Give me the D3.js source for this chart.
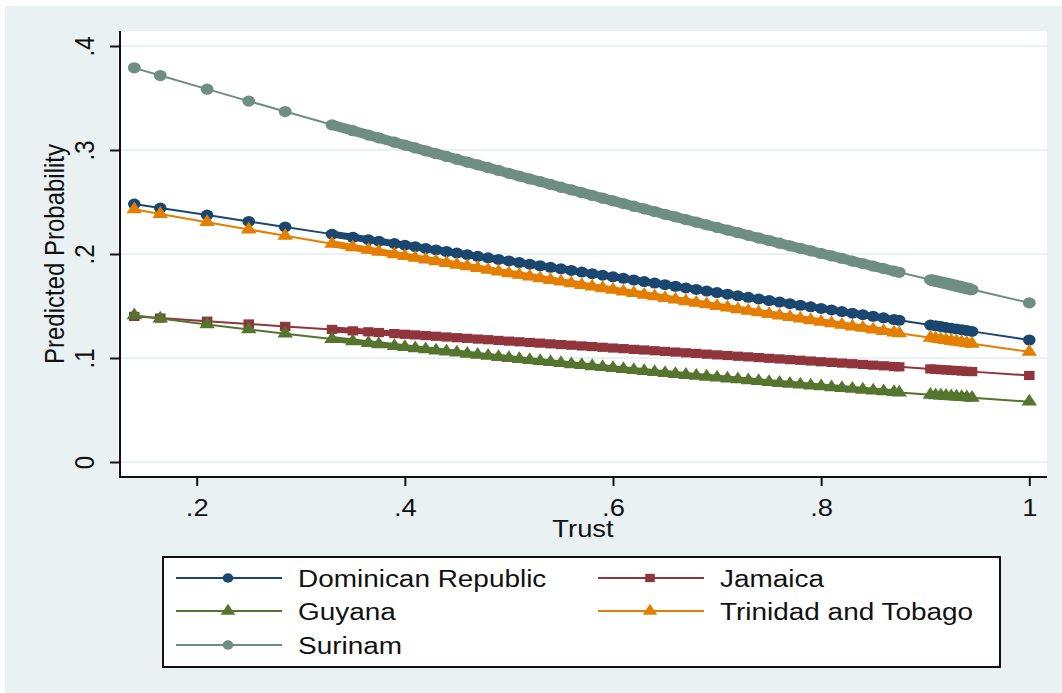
<!DOCTYPE html>
<html>
<head>
<meta charset="utf-8">
<script src="https://cdn.jsdelivr.net/npm/d3@7/dist/d3.min.js"></script>
<style>
  html, body { margin: 0; padding: 0; background: #ffffff; }
  svg { display: block; }
  text { font-family: "Liberation Sans", Arial, Helvetica, sans-serif; fill: #111; }
</style>
</head>
<body>
<svg id="chart" width="1062" height="693"></svg>
<script>
// Trust scores at which predicted probabilities were computed
const trust = [0.14,0.165,0.21,0.25,0.285,0.33,0.35,0.365,0.375,0.39,
  0.40,0.41,0.42,0.43,0.44,0.45,0.46,0.47,0.48,0.49,
  0.50,0.51,0.52,0.53,0.54,0.55,0.56,0.57,0.58,0.59,
  0.60,0.61,0.62,0.63,0.64,0.65,0.66,0.67,0.68,0.69,
  0.70,0.71,0.72,0.73,0.74,0.75,0.76,0.77,0.78,0.79,
  0.80,0.81,0.82,0.83,0.84,0.85,0.86,0.87,0.875,
  0.905,0.91,0.915,0.92,0.925,0.93,0.935,0.94,0.945,1.00];

// Predicted probability by country, one value per trust score
const dominicanRepublic = [0.2480,0.2442,0.2374,0.2313,0.2260,0.2191,0.2161,0.2138,0.2123,0.2100,
  0.2085,0.2070,0.2054,0.2039,0.2024,0.2009,0.1994,0.1978,0.1963,0.1948,
  0.1933,0.1918,0.1902,0.1887,0.1872,0.1857,0.1842,0.1826,0.1811,0.1796,
  0.1781,0.1766,0.1750,0.1735,0.1720,0.1705,0.1690,0.1674,0.1659,0.1644,
  0.1629,0.1614,0.1598,0.1583,0.1568,0.1553,0.1538,0.1522,0.1507,0.1492,
  0.1477,0.1462,0.1446,0.1431,0.1416,0.1401,0.1386,0.1370,0.1363,
  0.1317,0.1310,0.1302,0.1294,0.1287,0.1279,0.1272,0.1264,0.1256,0.1173];

const jamaica = [0.1400,0.1384,0.1354,0.1327,0.1304,0.1275,0.1261,0.1252,0.1245,0.1235,
  0.1228,0.1222,0.1215,0.1209,0.1202,0.1195,0.1189,0.1182,0.1176,0.1169,
  0.1162,0.1156,0.1149,0.1143,0.1136,0.1129,0.1123,0.1116,0.1110,0.1103,
  0.1096,0.1090,0.1083,0.1077,0.1070,0.1063,0.1057,0.1050,0.1044,0.1037,
  0.1030,0.1024,0.1017,0.1011,0.1004,0.0997,0.0991,0.0984,0.0978,0.0971,
  0.0964,0.0958,0.0951,0.0945,0.0938,0.0931,0.0925,0.0918,0.0915,
  0.0895,0.0892,0.0888,0.0885,0.0882,0.0879,0.0875,0.0872,0.0869,0.0832];

const guyana = [0.1410,0.1379,0.1323,0.1275,0.1234,0.1182,0.1160,0.1143,0.1132,0.1115,
  0.1104,0.1093,0.1083,0.1072,0.1062,0.1051,0.1041,0.1030,0.1020,0.1009,
  0.0999,0.0989,0.0979,0.0970,0.0960,0.0950,0.0940,0.0931,0.0921,0.0912,
  0.0902,0.0893,0.0883,0.0874,0.0864,0.0855,0.0846,0.0837,0.0828,0.0820,
  0.0811,0.0802,0.0794,0.0785,0.0777,0.0768,0.0760,0.0752,0.0744,0.0735,
  0.0727,0.0719,0.0711,0.0703,0.0695,0.0687,0.0679,0.0672,0.0668,
  0.0646,0.0642,0.0639,0.0635,0.0632,0.0628,0.0624,0.0621,0.0617,0.0580];

const trinidadTobago = [0.2430,0.2385,0.2306,0.2236,0.2175,0.2098,0.2064,0.2039,0.2022,0.1997,
  0.1980,0.1963,0.1947,0.1930,0.1913,0.1897,0.1881,0.1864,0.1848,0.1831,
  0.1815,0.1799,0.1783,0.1766,0.1750,0.1734,0.1718,0.1702,0.1686,0.1671,
  0.1655,0.1639,0.1624,0.1608,0.1593,0.1577,0.1561,0.1546,0.1530,0.1515,
  0.1499,0.1484,0.1469,0.1454,0.1438,0.1423,0.1408,0.1393,0.1378,0.1363,
  0.1348,0.1333,0.1318,0.1303,0.1289,0.1274,0.1259,0.1245,0.1238,
  0.1195,0.1188,0.1180,0.1173,0.1166,0.1159,0.1151,0.1144,0.1137,0.1060];

const surinam = [0.3790,0.3716,0.3585,0.3470,0.3370,0.3242,0.3186,0.3144,0.3117,0.3075,
  0.3047,0.3020,0.2992,0.2965,0.2938,0.2911,0.2884,0.2857,0.2830,0.2803,
  0.2776,0.2749,0.2722,0.2696,0.2669,0.2642,0.2616,0.2590,0.2563,0.2537,
  0.2511,0.2485,0.2459,0.2434,0.2408,0.2382,0.2357,0.2331,0.2306,0.2280,
  0.2255,0.2230,0.2205,0.2179,0.2154,0.2129,0.2104,0.2079,0.2055,0.2030,
  0.2005,0.1981,0.1957,0.1932,0.1908,0.1884,0.1860,0.1836,0.1824,
  0.1752,0.1740,0.1728,0.1717,0.1705,0.1693,0.1681,0.1670,0.1658,0.1530];

const countries = ["Dominican Republic", "Jamaica", "Guyana", "Trinidad and Tobago", "Surinam"];
const countryValues = [dominicanRepublic, jamaica, guyana, trinidadTobago, surinam];

const xTicks = [0.2, 0.4, 0.6, 0.8, 1];
const xTickLabels = [".2", ".4", ".6", ".8", "1"];
const yTicks = [0, 0.1, 0.2, 0.3, 0.4];
const yTickLabels = ["0", ".1", ".2", ".3", ".4"];
const xTitle = "Trust";
const yTitle = "Predicted Probability";

// ---- styling ----
const colors = ["#1a476f", "#90353b", "#55752f", "#e37e00", "#6e8e84"];
const symbols = [d3.symbolCircle, d3.symbolSquare, d3.symbolTriangle, d3.symbolTriangle, d3.symbolCircle];
const symbolSizes = [95, 85, 80, 80, 100];
const bandWidths = [9, 8, 8, 9, 12];   // thickness where markers pile up
const denseGap = 0.021;                // markers closer than this merge into a band
const stretch = 1.14;                  // wide aspect of the graph
const fontSize = 24;

const svg = d3.select("#chart");
const W = 1062, H = 693;
const plot = { left: 118, right: 1047, top: 31, bottom: 477 };

// graph region
svg.append("rect").attr("x", 0).attr("y", 0).attr("width", W).attr("height", H).attr("fill", "#ffffff");
svg.append("rect").attr("x", 5).attr("y", 6).attr("width", W - 5).attr("height", H - 6).attr("fill", "#e9f1f3");
// plot region
svg.append("rect").attr("x", plot.left).attr("y", plot.top)
  .attr("width", plot.right - plot.left).attr("height", plot.bottom - plot.top).attr("fill", "#ffffff");

const x = d3.scaleLinear().domain([0.2, 1]).range([196.7, 1029.3]);
const y = d3.scaleLinear().domain([0, 0.4]).range([462, 46]);

// horizontal grid lines
svg.append("g").selectAll("line").data(yTicks).join("line")
  .attr("x1", plot.left + 2).attr("x2", plot.right)
  .attr("y1", d => y(d)).attr("y2", d => y(d))
  .attr("stroke", "#e3ecef").attr("stroke-width", 1.5);

// series: connecting line, merged runs of overlapping markers, then markers
const line = d3.line().x(d => x(d[0])).y(d => y(d[1]));
countryValues.forEach((vals, i) => {
  const pts = trust.map((t, k) => [t, vals[k]]);
  const g = svg.append("g");
  g.append("path").datum(pts).attr("d", line)
    .attr("fill", "none").attr("stroke", colors[i]).attr("stroke-width", 2);

  // split into runs where consecutive scores are close together
  const runs = [];
  let cur = [pts[0]];
  for (let k = 1; k < pts.length; k++) {
    if (pts[k][0] - pts[k - 1][0] <= denseGap) cur.push(pts[k]);
    else { if (cur.length > 1) runs.push(cur); cur = [pts[k]]; }
  }
  if (cur.length > 1) runs.push(cur);
  g.selectAll("path.run").data(runs).join("path").attr("class", "run")
    .attr("d", line).attr("fill", "none").attr("stroke", colors[i])
    .attr("stroke-width", (r) => r[0][0] < 0.39 ? bandWidths[i] - 2 : bandWidths[i])
    .attr("stroke-linejoin", "round");

  const sym = d3.symbol().type(symbols[i]).size(symbolSizes[i]);
  g.selectAll("path.m").data(pts).join("path").attr("class", "m")
    .attr("d", sym)
    .attr("transform", d => `translate(${x(d[0])},${y(d[1])}) scale(${stretch},1)`)
    .attr("fill", colors[i]);
});

// axes
const yAxis = svg.append("g").attr("transform", `translate(${plot.left + 2},0)`)
  .call(d3.axisLeft(y).tickValues(yTicks).tickSize(10).tickFormat((d, i) => yTickLabels[i]));
yAxis.select(".domain").attr("d", `M0,${plot.top}V${plot.bottom}`).attr("stroke", "#111").attr("stroke-width", 2);
yAxis.selectAll(".tick line").attr("stroke", "#111").attr("stroke-width", 2);
yAxis.selectAll(".tick text")
  .attr("x", null).attr("dy", null).attr("text-anchor", "middle")
  .attr("transform", `translate(-26,0) scale(${stretch},1) rotate(-90)`)
  .attr("font-size", fontSize).attr("font-family", null).attr("fill", "#111");

const xAxis = svg.append("g").attr("transform", `translate(0,${plot.bottom})`)
  .call(d3.axisBottom(x).tickValues(xTicks).tickSize(9).tickFormat((d, i) => xTickLabels[i]));
xAxis.select(".domain").attr("d", `M${plot.left + 1},0H${plot.right}`).attr("stroke", "#111").attr("stroke-width", 2);
xAxis.selectAll(".tick line").attr("stroke", "#111").attr("stroke-width", 2);
xAxis.selectAll(".tick text")
  .attr("y", null).attr("dy", null)
  .attr("transform", `translate(0,39) scale(${stretch},1)`)
  .attr("font-size", fontSize).attr("font-family", null).attr("fill", "#111");

// axis titles
svg.append("text").attr("text-anchor", "middle")
  .attr("transform", `translate(583,537) scale(${stretch},1)`)
  .attr("font-size", fontSize).text(xTitle);
svg.append("text").attr("text-anchor", "middle")
  .attr("transform", `translate(64,254) scale(${stretch},1) rotate(-90)`)
  .attr("font-size", fontSize).text(yTitle);

// legend
const legend = svg.append("g");
legend.append("rect").attr("x", 163).attr("y", 557).attr("width", 837).attr("height", 110)
  .attr("fill", "#ffffff").attr("stroke", "#111").attr("stroke-width", 2);
const colX = [176, 598];
const rowY = [578, 611, 645];
countries.forEach((name, i) => {
  const cx = colX[i % 2], cy = rowY[Math.floor(i / 2)];
  const item = legend.append("g").attr("transform", `translate(${cx},${cy})`);
  item.append("line").attr("x1", 0).attr("x2", 106).attr("y1", 0).attr("y2", 0)
    .attr("stroke", colors[i]).attr("stroke-width", 2);
  item.append("path").attr("d", d3.symbol().type(symbols[i]).size(70)())
    .attr("transform", `translate(52,0) scale(${stretch},1)`).attr("fill", colors[i]);
  item.append("text").attr("transform", `translate(122,8.5) scale(${stretch},1)`)
    .attr("font-size", 24.5).text(name);
});
</script>
</body>
</html>
